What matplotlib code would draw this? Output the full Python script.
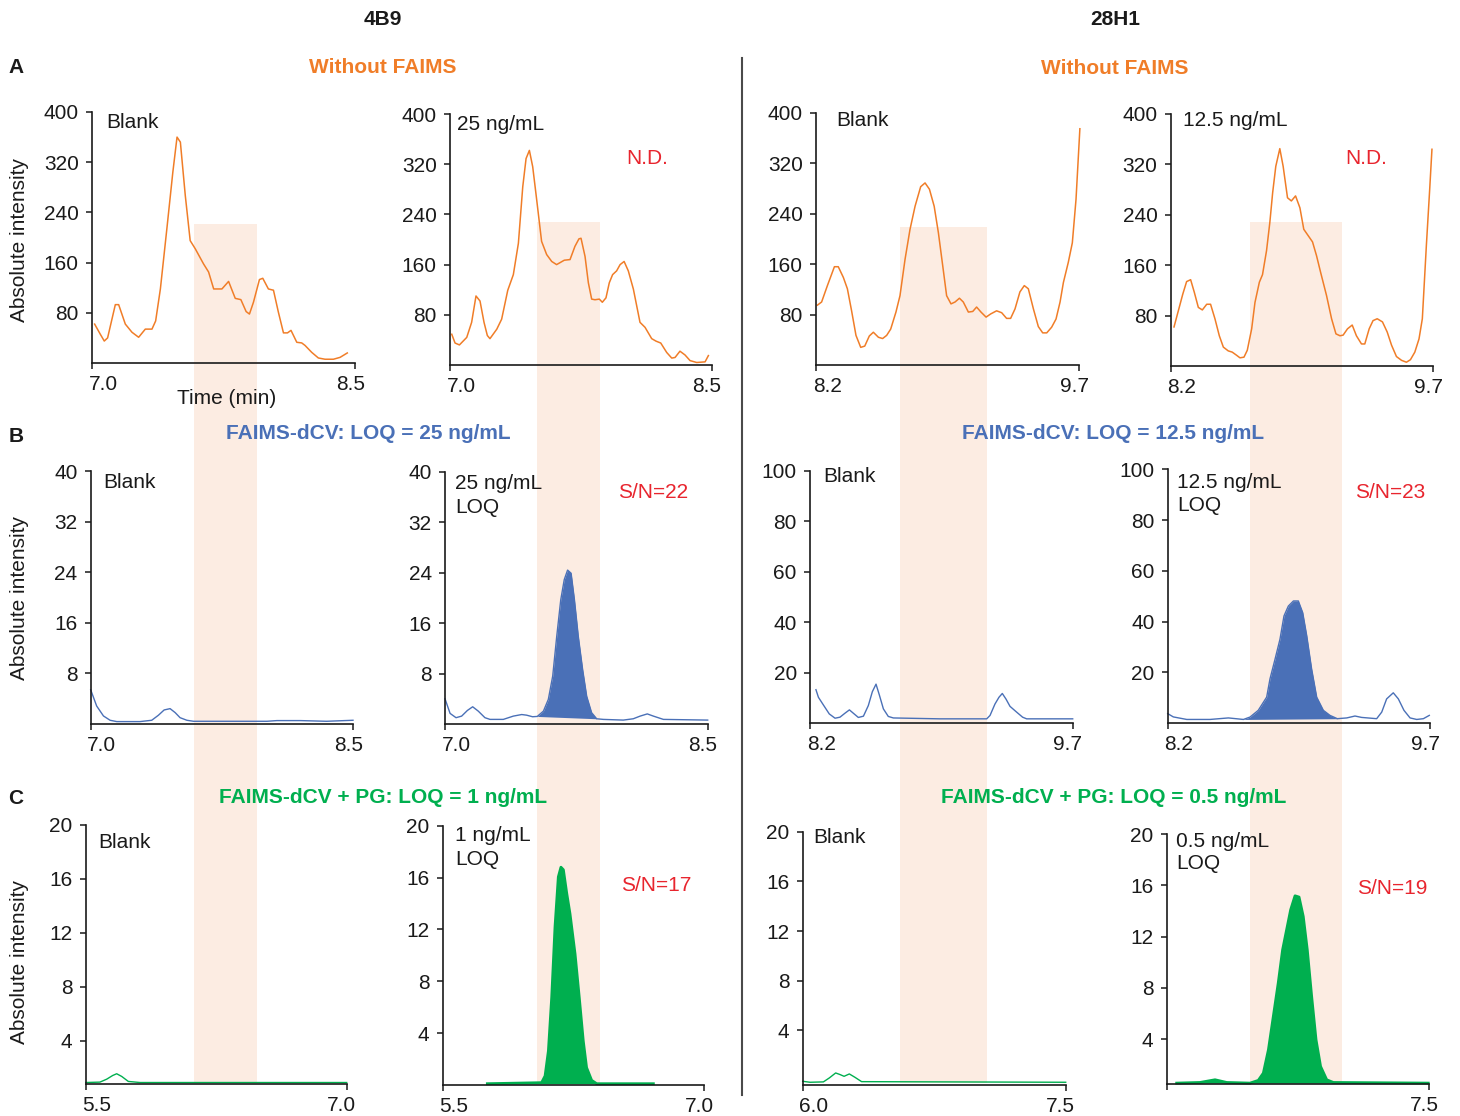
import numpy as np
import matplotlib
matplotlib.use('Agg')
import matplotlib.pyplot as plt
from matplotlib.patches import Rectangle
from matplotlib.lines import Line2D
import matplotlib.transforms as mtransforms

plt.rcParams['font.family'] = ['Liberation Sans', 'DejaVu Sans']

# ---------------- data ----------------
p1_t = [7.015,7.047,7.07,7.089,7.133,7.152,7.19,7.228,7.266,7.304,7.342,7.363,7.39,7.427,7.461,7.485,7.504,7.532,7.56,7.589,7.636,7.665,7.694,7.722,7.741,7.779,7.817,7.849,7.879,7.898,7.921,7.955,7.974,8.006,8.035,8.063,8.092,8.115,8.135,8.168,8.196,8.215,8.253,8.291,8.329,8.377,8.415,8.456]
p1_y = [62,46,35,40,93,93,62,49,41,54,54,67,118,214,304,360,352,267,195,182,158,145,118,118,118,130,103,101,82,78,97,133,135,118,116,81,48,48,52,33,32,28,17,8,6,6,9,16]

p2_t = [7.01,7.029,7.054,7.096,7.124,7.149,7.172,7.195,7.214,7.229,7.268,7.296,7.331,7.363,7.392,7.417,7.436,7.455,7.474,7.497,7.525,7.554,7.583,7.611,7.63,7.655,7.688,7.716,7.739,7.751,7.774,7.793,7.812,7.831,7.856,7.873,7.894,7.913,7.932,7.955,7.975,7.998,8.022,8.051,8.089,8.118,8.156,8.181,8.208,8.242,8.271,8.29,8.318,8.347,8.376,8.414,8.462,8.481]
p2_y = [49,35,32,44,68,110,102,68,47,42,57,73,119,144,194,284,329,342,316,263,197,176,165,160,163,167,168,189,201,202,173,131,105,104,105,100,107,131,144,150,160,165,150,121,68,60,42,38,35,20,11,12,22,16,7,4,5,15]

p3_t = [8.208,8.232,8.265,8.305,8.327,8.356,8.379,8.403,8.428,8.455,8.478,8.504,8.527,8.556,8.58,8.603,8.626,8.656,8.679,8.708,8.736,8.765,8.797,8.822,8.847,8.874,8.898,8.923,8.945,8.97,8.993,9.018,9.04,9.069,9.094,9.116,9.141,9.17,9.196,9.23,9.259,9.287,9.31,9.335,9.363,9.388,9.411,9.44,9.468,9.493,9.516,9.544,9.569,9.592,9.611,9.639,9.662,9.683,9.705]
p3_y = [95,100,126,156,156,139,121,86,47,28,30,46,52,44,42,47,57,84,110,168,215,252,283,289,279,252,210,157,110,97,100,106,100,84,85,92,84,76,81,86,83,74,74,89,116,126,121,89,61,51,51,60,73,100,131,163,194,263,375]

p4_t = [8.219,8.244,8.269,8.291,8.314,8.335,8.358,8.381,8.406,8.428,8.453,8.478,8.501,8.529,8.552,8.577,8.596,8.619,8.638,8.663,8.682,8.707,8.725,8.748,8.767,8.783,8.801,8.824,8.843,8.868,8.89,8.914,8.939,8.961,8.986,9.011,9.034,9.057,9.091,9.12,9.145,9.168,9.186,9.211,9.238,9.262,9.291,9.31,9.335,9.357,9.381,9.411,9.438,9.463,9.491,9.52,9.548,9.571,9.596,9.62,9.639,9.662,9.681,9.694]
p4_y = [62,88,114,134,137,117,93,89,98,98,75,48,30,24,22,17,13,14,25,59,101,133,145,183,228,275,317,345,317,267,262,270,251,217,207,197,175,149,112,75,51,48,49,59,65,48,35,35,59,72,75,70,54,33,15,9,6,10,22,43,75,191,280,344]

p5_t = [7.0,7.034,7.073,7.111,7.149,7.282,7.349,7.387,7.42,7.454,7.483,7.511,7.55,7.588,8.008,8.065,8.198,8.349,8.5]
p5_y = [5.4,2.85,1.27,0.59,0.38,0.38,0.59,1.38,2.22,2.43,1.8,1.0,0.59,0.43,0.43,0.54,0.54,0.43,0.59]

p6_t = [7.0,7.029,7.063,7.095,7.128,7.158,7.19,7.228,7.257,7.333,7.39,7.438,7.466,7.5,7.527,7.562,7.59,7.615,7.638,7.661,7.681,7.7,7.72,7.739,7.761,7.786,7.809,7.837,7.866,7.904,8.018,8.075,8.114,8.155,8.19,8.247,8.5]
p6_y = [4.0,1.68,1.0,1.25,2.15,2.73,2.04,1.0,0.73,0.73,1.25,1.5,1.4,1.15,1.2,2.04,3.9,7.6,13.9,19.7,22.9,24.4,23.9,19.7,13.9,8.6,4.4,1.8,0.83,0.73,0.62,0.83,1.25,1.6,1.25,0.73,0.62]

p7_t = [8.234,8.248,8.276,8.31,8.343,8.371,8.4,8.425,8.447,8.476,8.505,8.533,8.556,8.577,8.596,8.619,8.647,8.676,8.942,9.209,9.228,9.256,9.279,9.298,9.319,9.342,9.38,9.414,9.437,9.7]
p7_y = [13.2,10.2,7.2,3.6,1.9,2.3,3.9,5.2,3.9,2.2,2.7,6.9,12.4,15.4,11.1,5.6,2.6,2.0,1.65,1.65,3.0,7.5,10.2,11.7,9.5,6.6,4.3,2.3,1.65,1.65]

p8_t = [8.2,8.232,8.309,8.442,8.547,8.633,8.671,8.718,8.766,8.785,8.814,8.842,8.865,8.89,8.919,8.947,8.972,8.995,9.023,9.052,9.09,9.128,9.17,9.224,9.271,9.309,9.395,9.424,9.452,9.49,9.519,9.551,9.586,9.624,9.662,9.696]
p8_y = [3.7,2.4,1.4,1.4,2.0,1.4,2.35,5.0,10.2,17.4,25.2,33,42.2,46.1,48.1,48.1,43.5,34.4,21.3,10.2,5.0,3.0,1.7,2.0,2.75,2.2,1.7,4.3,9.5,11.9,9.5,5.0,2.0,1.4,1.7,3.0]

p9_t = [5.5,5.582,5.621,5.655,5.678,5.707,5.745,5.812,7.0]
p9_y = [0.91,0.94,1.16,1.43,1.56,1.36,0.99,0.91,0.91]

p10_t = [5.756,6.067,6.087,6.106,6.125,6.144,6.163,6.178,6.192,6.211,6.23,6.259,6.283,6.306,6.325,6.354,6.383,6.708]
p10_y = [0.1,0.18,0.7,2.63,6.76,12.2,16.05,16.8,16.6,14.8,13.2,10.1,6.76,3.4,1.34,0.36,0.1,0.1]

p11_t = [6.0,6.042,6.118,6.152,6.188,6.213,6.236,6.266,6.298,6.336,7.5]
p11_y = [-0.1,-0.18,-0.15,0.17,0.57,0.44,0.3,0.49,0.22,-0.13,-0.18]

p12_t = [6.057,6.19,6.276,6.343,6.476,6.523,6.552,6.581,6.609,6.637,6.662,6.685,6.708,6.733,6.756,6.78,6.803,6.828,6.853,6.879,6.914,6.952,7.494]
p12_y = [0.57,0.62,0.83,0.62,0.57,0.78,1.35,3.17,5.77,8.37,10.97,12.53,14.09,15.18,15.08,13.57,10.97,7.33,3.95,1.87,0.83,0.62,0.57]

xlims = [(7.0, 8.5), (7.0, 8.5), (8.2, 9.7), (8.2, 9.7),
         (7.0, 8.5), (7.0, 8.5), (8.2, 9.7), (8.2, 9.7),
         (5.5, 7.0), (5.5, 7.0), (6.0, 7.5), (6.0, 7.5)]
xlabels = [('7.0', '8.5'), ('7.0', '8.5'), ('8.2', '9.7'), ('8.2', '9.7'),
           ('7.0', '8.5'), ('7.0', '8.5'), ('8.2', '9.7'), ('8.2', '9.7'),
           ('5.5', '7.0'), ('5.5', '7.0'), ('6.0', '7.5'), ('', '7.5')]
yticks_A = [80, 160, 240, 320, 400]
yticks_B1 = [8, 16, 24, 32, 40]
yticks_B2 = [20, 40, 60, 80, 100]
yticks_C = [4, 8, 12, 16, 20]

# ---------------- style / layout ----------------
W, H = 1460, 1116
fig = plt.figure(figsize=(W / 100, H / 100), dpi=100)

ORANGE = '#F07D28'
BLUE = '#4A70B7'
GREEN = '#00AF4F'
RED = '#E8252E'
BAND = '#FCECE2'

# axes rectangles in pixels: x0, x1, ytop, ybottom
rects = [(92, 355, 112, 363), (450, 711.7, 114, 365), (816, 1079, 113, 365), (1170.7, 1433, 114, 366),
         (90.7, 353, 471, 724), (445, 707.7, 471.7, 724), (810, 1072.7, 470.7, 723), (1167.7, 1430, 469.3, 723),
         (85.7, 346.7, 825, 1084), (442.7, 704.3, 825.7, 1085), (802.7, 1065.7, 831.7, 1085), (1166.7, 1429.3, 834, 1084)]
ylims = [(0, 400)] * 4 + [(0, 40), (0, 40), (0, 100), (0, 100)] + [(0.8, 20), (0, 20), (-0.4, 20), (0.5, 20)]
yticks = [yticks_A] * 4 + [yticks_B1, yticks_B1, yticks_B2, yticks_B2] + [yticks_C] * 4
traces = [(p1_t, p1_y), (p2_t, p2_y), (p3_t, p3_y), (p4_t, p4_y),
          (p5_t, p5_y), (p6_t, p6_y), (p7_t, p7_y), (p8_t, p8_y),
          (p9_t, p9_y), (p10_t, p10_y), (p11_t, p11_y), (p12_t, p12_y)]
colors = [ORANGE] * 4 + [BLUE] * 4 + [GREEN] * 4
fills = {5: (7.527, 7.866), 7: (8.633, 9.17), 9: (5.756, 6.708), 11: (6.057, 7.494)}

# shaded bands (figure level)
bands = [(194, 257, 224), (537, 600, 222), (900, 987, 227), (1250, 1342, 222)]
for x0, x1, yt in bands:
    fig.add_artist(Rectangle((x0 / W, 1 - 1083 / H), (x1 - x0) / W, (1083 - yt) / H,
                             transform=fig.transFigure, facecolor=BAND, edgecolor='none', zorder=-5))

fig.add_artist(Line2D([742 / W, 742 / W], [1 - 58 / H, 1 - 1095 / H], transform=fig.transFigure,
                      color='#4a4a4a', lw=1.5))

for i in range(12):
    x0, x1, yt, yb = rects[i]
    ax = fig.add_axes([x0 / W, 1 - yb / H, (x1 - x0) / W, (yb - yt) / H])
    ax.patch.set_visible(False)
    for s in ['top', 'right']:
        ax.spines[s].set_visible(False)
    for s in ['left', 'bottom']:
        ax.spines[s].set_linewidth(1.2)
        ax.spines[s].set_color('#1a1a1a')
    ax.set_xlim(*xlims[i])
    ax.set_ylim(*ylims[i])
    ax.set_yticks(yticks[i])
    ax.set_xticks(list(xlims[i]))
    ax.set_xticklabels(list(xlabels[i]))
    ax.tick_params(axis='y', direction='out', length=4.5, width=1.1, pad=5, labelsize=15, colors='#1a1a1a')
    ax.tick_params(axis='x', direction='out', length=4, width=1.1, pad=4.5, labelsize=15, colors='#1a1a1a')
    labs = ax.get_xticklabels()
    labs[0].set_transform(labs[0].get_transform() + mtransforms.ScaledTranslation(8 / 72, 0, fig.dpi_scale_trans))
    labs[1].set_transform(labs[1].get_transform() + mtransforms.ScaledTranslation(-3.5 / 72, 0, fig.dpi_scale_trans))
    t, y = traces[i]
    t = np.array(t); y = np.array(y)
    lw = 1.1 if i < 4 else 1.0
    if i in (9, 11):
        lw = 2.0
    ax.plot(t, y, color=colors[i], lw=lw, clip_on=False, solid_joinstyle='round')
    if i in fills:
        a, b = fills[i]
        m = (t >= a - 1e-9) & (t <= b + 1e-9)
        tt = t[m]; yy = y[m]
        base = np.interp(tt, [tt[0], tt[-1]], [yy[0], yy[-1]])
        ax.fill_between(tt, base, yy, color=colors[i], lw=0)


def ft(x, y, s, ha='left', color='#1a1a1a', size=15, weight='normal', **kw):
    # y = visual centre of capitals, in pixels from top
    fig.text(x / W, 1 - (y + 7.3 * size / 15) / H, s, ha=ha, va='baseline', color=color,
             fontsize=size, fontweight=weight, **kw)


# headers
ft(383, 18, '4B9', ha='center', weight='bold')
ft(1115, 18, '28H1', ha='center', weight='bold')
ft(16, 66, 'A', ha='center', weight='bold')
ft(16, 435, 'B', ha='center', weight='bold')
ft(16, 797, 'C', ha='center', weight='bold')
ft(383, 66, 'Without FAIMS', ha='center', weight='bold', color=ORANGE)
ft(1115, 67, 'Without FAIMS', ha='center', weight='bold', color=ORANGE)
ft(368, 432, 'FAIMS-dCV: LOQ = 25 ng/mL', ha='center', weight='bold', color=BLUE)
ft(1113, 432, 'FAIMS-dCV: LOQ = 12.5 ng/mL', ha='center', weight='bold', color=BLUE)
ft(383, 796, 'FAIMS-dCV + PG: LOQ = 1 ng/mL', ha='center', weight='bold', color=GREEN)
ft(1114, 796, 'FAIMS-dCV + PG: LOQ = 0.5 ng/mL', ha='center', weight='bold', color=GREEN)

# panel labels
ft(106, 121, 'Blank')
ft(457, 123, '25 ng/mL')
ft(626, 157, 'N.D.', color=RED)
ft(836, 119, 'Blank')
ft(1183, 119, '12.5 ng/mL')
ft(1345, 157, 'N.D.', color=RED)

ft(103, 481, 'Blank')
ft(455, 482, '25 ng/mL')
ft(455, 506, 'LOQ')
ft(618, 491, 'S/N=22', color=RED)
ft(823, 475, 'Blank')
ft(1177, 481, '12.5 ng/mL')
ft(1177, 504, 'LOQ')
ft(1355, 491, 'S/N=23', color=RED)

ft(98, 841, 'Blank')
ft(455, 834, '1 ng/mL')
ft(455, 858, 'LOQ')
ft(621, 884, 'S/N=17', color=RED)
ft(813, 836, 'Blank')
ft(1176, 840, '0.5 ng/mL')
ft(1176, 862, 'LOQ')
ft(1357, 887, 'S/N=19', color=RED)

ft(227, 397, 'Time (min)', ha='center')
for yc in (240, 598, 962):
    fig.text(20 / W, 1 - yc / H, 'Absolute intensity', rotation=90, ha='center', va='center',
             fontsize=15, color='#1a1a1a')

fig.savefig('out.png', dpi=100)
